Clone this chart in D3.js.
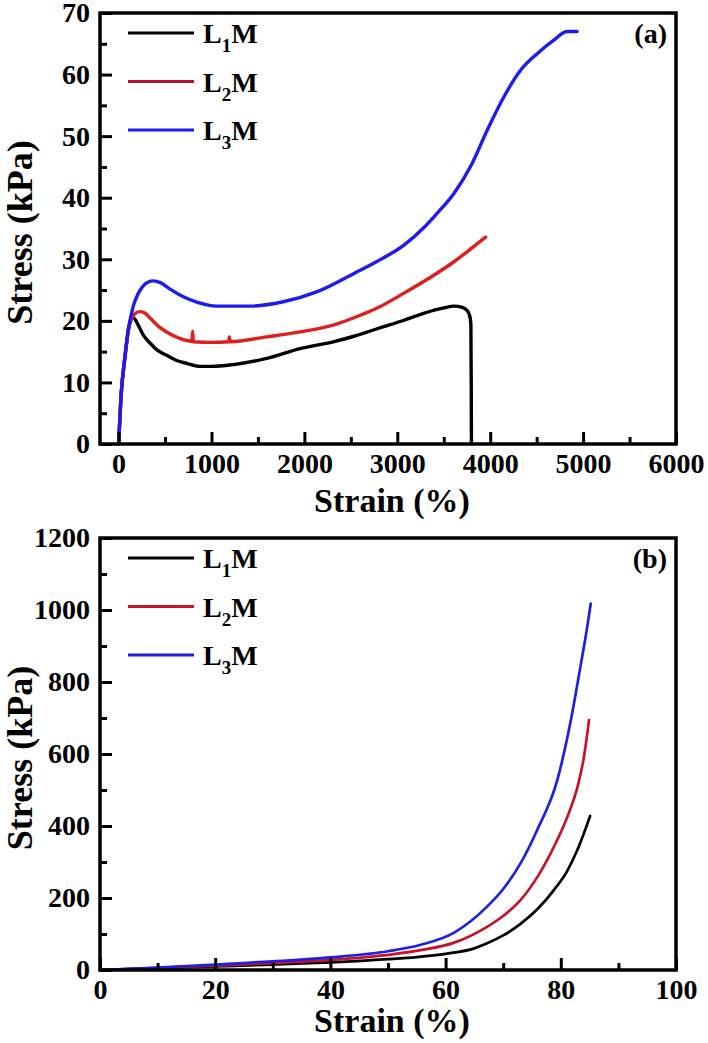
<!DOCTYPE html>
<html>
<head>
<meta charset="utf-8">
<script src="https://cdn.jsdelivr.net/npm/d3@7"></script>
</head>
<body>
<svg id="chart" width="708" height="1043" font-family="Liberation Serif"></svg>
<script>
document.body.style.margin = "0";
document.getElementById("chart").style.display = "block";

// ---------- Data: panel (a) tensile ----------
const seriesNames = ["L1M", "L2M", "L3M"];
const seriesSubs = ["1", "2", "3"];
const colorsA = ["#000000", "#e01e1e", "#1c1cf0"];
const colorsB = ["#000000", "#c4142a", "#1e1ee8"];

const tensileL1M = [[0,0],[26,7.7],[69,14.2],[105,18.5],[125,20],[145,20.6],[175,20.3],[215,19.2],[270,17.6],[338,16.4],[420,15.2],[517,14.4],[620,13.6],[732,13.1],[876,12.6],[1000,12.6],[1233,12.9],[1594,13.9],[1953,15.5],[2310,16.6],[2534,17.5],[2800,18.8],[3072,20.1],[3300,21.3],[3500,22.1],[3610,22.4],[3700,22.2],[3750,21.7],[3780,20.8],[3792,19.5],[3796,10],[3798,0]];
const tensileL2M = [[0,0],[26,7.7],[69,14.2],[105,18.5],[140,20.3],[180,21.2],[230,21.5],[290,21.2],[350,20.3],[430,19.1],[517,18.2],[650,17.2],[790,16.7],[797,18.3],[804,16.6],[1000,16.5],[1185,16.6],[1192,17.4],[1200,16.6],[1594,17.4],[1953,18.2],[2310,19.3],[2534,20.5],[2800,22.2],[3072,24.5],[3350,27],[3610,29.6],[3800,31.8],[3950,33.6]];
const tensileL3M = [[0,0],[26,7.7],[69,14.2],[105,18.5],[158,22.4],[210,24.4],[266,25.7],[320,26.3],[374,26.5],[450,26.2],[550,25.2],[697,23.9],[850,23],[1056,22.4],[1415,22.4],[1773,23.1],[2132,24.7],[2534,27.7],[2800,29.8],[3072,32.3],[3290,35.2],[3431,37.5],[3610,40.7],[3790,45.1],[3969,51],[4148,56.4],[4327,60.7],[4506,63.4],[4685,65.6],[4828,67],[4935,67]];

const xTicksA = [0, 1000, 2000, 3000, 4000, 5000, 6000];
const xMinorA = [500, 1500, 2500, 3500, 4500, 5500];
const yTicksA = [0, 10, 20, 30, 40, 50, 60, 70];
const yMinorA = [5, 15, 25, 35, 45, 55, 65];

// ---------- Data: panel (b) compression ----------
const compL1M = [[0,0],[10,5],[20,10],[30,15],[40,21],[50,30],[55,36],[60,45],[65,60],[67.2,74],[70,96],[73,128],[76,170],[78.8,222],[81,272],[83,338],[85.1,428]];
const compL2M = [[0,0],[10,6],[20,12],[30,19],[40,28],[50,42],[55.7,55],[61.5,76],[67.2,120],[70,150],[73,194],[76,260],[78.8,342],[81,420],[83,515],[84,590],[84.9,694]];
const compL3M = [[0,0],[10,7],[20,15],[30,24],[40,35],[50,52],[55.7,70],[61.5,104],[67.2,176],[70,225],[73,296],[75.9,389],[79.4,528],[81.7,690],[83.4,842],[84.6,954],[85.2,1018]];

const xTicksB = [0, 20, 40, 60, 80, 100];
const xMinorB = [10, 30, 50, 70, 90];
const yTicksB = [0, 200, 400, 600, 800, 1000, 1200];
const yMinorB = [100, 300, 500, 700, 900, 1100];

const svg = d3.select("#chart");

function styleText(sel, size) {
  return sel.attr("font-family", "Liberation Serif").attr("font-weight", "bold")
    .attr("font-size", size).attr("fill", "#000");
}

function panel(cfg) {
  const g = svg.append("g");
  const x = d3.scaleLinear().domain(cfg.xDomain).range([cfg.left, cfg.right]);
  const y = d3.scaleLinear().domain(cfg.yDomain).range([cfg.bottom, cfg.top]);

  // data lines
  const line = d3.line().x(d => x(d[0])).y(d => y(d[1])).curve(d3.curveMonotoneX);
  cfg.series.forEach((s, i) => {
    g.append("path").datum(s)
      .attr("d", line)
      .attr("fill", "none")
      .attr("stroke", cfg.colors[i])
      .attr("stroke-width", cfg.lineWidth)
      .attr("stroke-linejoin", "round")
      .attr("stroke-linecap", "round");
  });

  // axes (major + minor ticks, pointing inward)
  const xAxis = d3.axisBottom(x).tickValues(cfg.xTicks).tickSizeInner(-12).tickSizeOuter(0).tickPadding(9).tickFormat(d3.format("d"));
  const yAxis = d3.axisLeft(y).tickValues(cfg.yTicks).tickSizeInner(-12).tickSizeOuter(0).tickPadding(10).tickFormat(d3.format("d"));
  const xMinor = d3.axisBottom(x).tickValues(cfg.xMinor).tickSizeInner(-7).tickSizeOuter(0).tickFormat("");
  const yMinor = d3.axisLeft(y).tickValues(cfg.yMinor).tickSizeInner(-7).tickSizeOuter(0).tickFormat("");

  [[xAxis, `translate(0,${cfg.bottom})`], [xMinor, `translate(0,${cfg.bottom})`],
   [yAxis, `translate(${cfg.left},0)`], [yMinor, `translate(${cfg.left},0)`]].forEach(([ax, tr]) => {
    const a = g.append("g").attr("transform", tr).call(ax);
    a.attr("font-family", "Liberation Serif").attr("font-size", 28).attr("font-weight", "bold");
    a.select(".domain").remove();
    a.selectAll(".tick line").attr("stroke", "#000").attr("stroke-width", 3);
    styleText(a.selectAll(".tick text"), 28);
  });

  // frame
  g.append("rect")
    .attr("x", cfg.left).attr("y", cfg.top)
    .attr("width", cfg.right - cfg.left).attr("height", cfg.bottom - cfg.top)
    .attr("fill", "none").attr("stroke", "#000").attr("stroke-width", 3.5);

  // axis titles
  styleText(g.append("text"), 34)
    .attr("x", (cfg.left + cfg.right) / 2 + 4).attr("y", cfg.bottom + cfg.titleDy)
    .attr("text-anchor", "middle")
    .text("Strain (%)");
  styleText(g.append("text"), 36)
    .attr("transform", `translate(32,${(cfg.top + cfg.bottom) / 2 + 4}) rotate(-90)`)
    .attr("text-anchor", "middle")
    .text("Stress (kPa)");

  // panel label
  styleText(g.append("text"), 28)
    .attr("x", cfg.right - 9).attr("y", cfg.top + 30)
    .attr("text-anchor", "end")
    .text(cfg.label);

  // legend
  seriesNames.forEach((name, i) => {
    const ly = cfg.top + 20 + i * 48.5;
    g.append("line")
      .attr("x1", cfg.left + 28).attr("x2", cfg.left + 94)
      .attr("y1", ly).attr("y2", ly)
      .attr("stroke", cfg.legendColors[i]).attr("stroke-width", 3.2);
    const t = styleText(g.append("text"), 28)
      .attr("x", cfg.left + 103).attr("y", ly + 10);
    t.append("tspan").text("L");
    t.append("tspan").attr("font-size", 19).attr("dy", 9).text(seriesSubs[i]);
    t.append("tspan").attr("dy", -9).text("M");
  });
}

panel({
  left: 100, right: 676, top: 13, bottom: 444,
  xDomain: [-200, 6000], yDomain: [0, 70],
  xTicks: xTicksA, xMinor: xMinorA, yTicks: yTicksA, yMinor: yMinorA,
  series: [tensileL1M, tensileL2M, tensileL3M],
  colors: colorsA, legendColors: ["#000000", "#b8142c", "#1c1cf0"],
  lineWidth: 3.4, label: "(a)", titleDy: 68
});

panel({
  left: 100, right: 676, top: 538, bottom: 970,
  xDomain: [0, 100], yDomain: [0, 1200],
  xTicks: xTicksB, xMinor: xMinorB, yTicks: yTicksB, yMinor: yMinorB,
  series: [compL1M, compL2M, compL3M],
  colors: colorsB, legendColors: ["#000000", "#c4142a", "#1e1ee8"],
  lineWidth: 2.7, label: "(b)", titleDy: 62
});
</script>
</body>
</html>
